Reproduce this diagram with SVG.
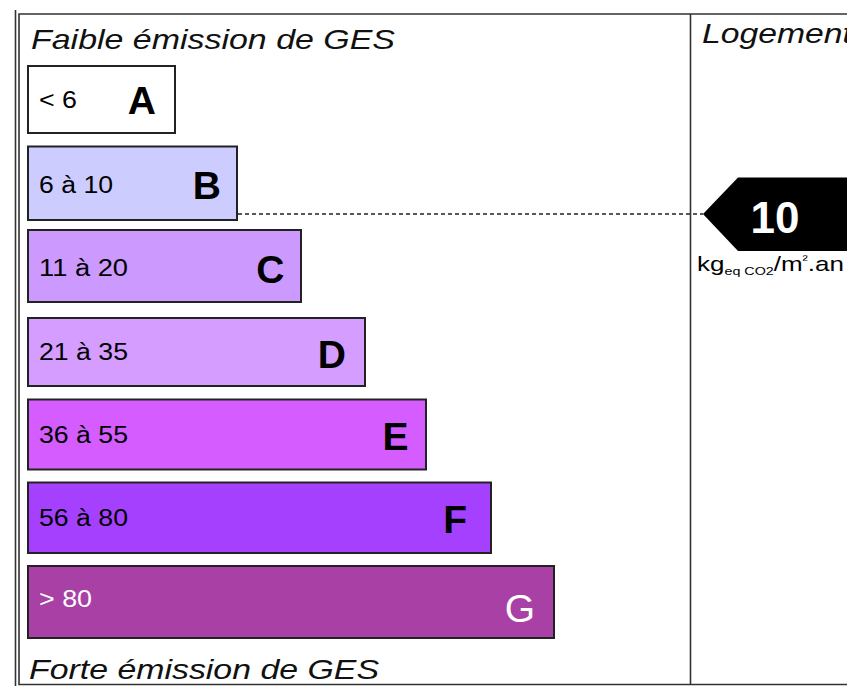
<svg xmlns="http://www.w3.org/2000/svg" width="847" height="686" viewBox="0 0 847 686">
<style>
.frame{fill:none;stroke:#333;stroke-width:1.6}
.bar{stroke:#222;stroke-width:2}
.rng{font-family:"Liberation Sans",Arial,sans-serif;font-size:23px;fill:#000}
.let{font-family:"Liberation Sans",Arial,sans-serif;font-size:39px;font-weight:bold;fill:#000;text-anchor:end}
.hdr{font-family:"Liberation Sans",Arial,sans-serif;font-size:28px;font-style:italic;fill:#111}
.dash{stroke:#222;stroke-width:1.4;stroke-dasharray:4 3;fill:none}
</style>
<rect width="847" height="686" fill="#fff"/>
<g id="frame">
<line class="frame" x1="15.5" y1="10" x2="15.5" y2="686"/>
<polyline class="frame" points="850,14 19,14 19,684.5 850,684.5"/>
<line class="frame" x1="690.5" y1="14" x2="690.5" y2="684.5"/>
<text class="hdr" x="31" y="49" textLength="364" lengthAdjust="spacingAndGlyphs">Faible émission de GES</text>
<text class="hdr" x="29" y="679" textLength="350" lengthAdjust="spacingAndGlyphs">Forte émission de GES</text>
<text class="hdr" x="702" y="43" font-size="27" textLength="150" lengthAdjust="spacingAndGlyphs">Logement</text>
</g>
<g id="connectors">
<line class="dash" x1="238" y1="214" x2="703" y2="214"/>
</g>
<g id="classA">
<rect class="bar" x="28" y="66" width="147" height="67" fill="#ffffff"/>
<text class="rng" x="39" y="108" textLength="38" lengthAdjust="spacingAndGlyphs">&lt; 6</text>
<text class="let" x="156" y="113.5">A</text>
</g>
<g id="classB">
<rect class="bar" x="28" y="146.5" width="209" height="73.5" fill="#ccccff"/>
<text class="rng" x="39" y="192.7" textLength="74" lengthAdjust="spacingAndGlyphs">6 à 10</text>
<text class="let" x="221" y="199.3">B</text>
</g>
<g id="classC">
<rect class="bar" x="28" y="230" width="273" height="72" fill="#cc99ff"/>
<text class="rng" x="39" y="275.5" textLength="89" lengthAdjust="spacingAndGlyphs">11 à 20</text>
<text class="let" x="284.5" y="282.5">C</text>
</g>
<g id="classD">
<rect class="bar" x="28" y="318" width="337" height="68" fill="#d49dff"/>
<text class="rng" x="39" y="360" textLength="89" lengthAdjust="spacingAndGlyphs">21 à 35</text>
<text class="let" x="346" y="367.7">D</text>
</g>
<g id="classE">
<rect class="bar" x="28" y="399.5" width="398" height="70" fill="#d55cff"/>
<text class="rng" x="39" y="442.7" textLength="89" lengthAdjust="spacingAndGlyphs">36 à 55</text>
<text class="let" x="408.5" y="450">E</text>
</g>
<g id="classF">
<rect class="bar" x="28" y="482.5" width="463" height="70.5" fill="#a640ff"/>
<text class="rng" x="39" y="525.7" textLength="89" lengthAdjust="spacingAndGlyphs">56 à 80</text>
<text class="let" x="467" y="533.3">F</text>
</g>
<g id="classG">
<rect class="bar" x="28" y="566" width="526" height="72" fill="#a840a5"/>
<text class="rng" x="39" y="607" style="fill:#fff" textLength="53" lengthAdjust="spacingAndGlyphs">&gt; 80</text>
<text class="let" x="535" y="621.5" font-size="42" style="font-weight:normal;fill:#fff">G</text>
</g>
<g id="value">
<polygon points="703,214 738,177.5 850,177.5 850,251 738,251" fill="#000"/>
<text x="775" y="233" text-anchor="middle" font-family="'Liberation Sans',Arial,sans-serif" font-size="44" font-weight="bold" fill="#fff">10</text>
<text transform="translate(697,271) scale(1.3,1)" font-family="'Liberation Sans',Arial,sans-serif" font-size="20" fill="#000">kg<tspan font-size="11" dy="4">eq CO2</tspan><tspan dy="-4">/m</tspan><tspan font-size="12" dy="-7">²</tspan><tspan dy="7">.an</tspan></text>
</g>
</svg>
